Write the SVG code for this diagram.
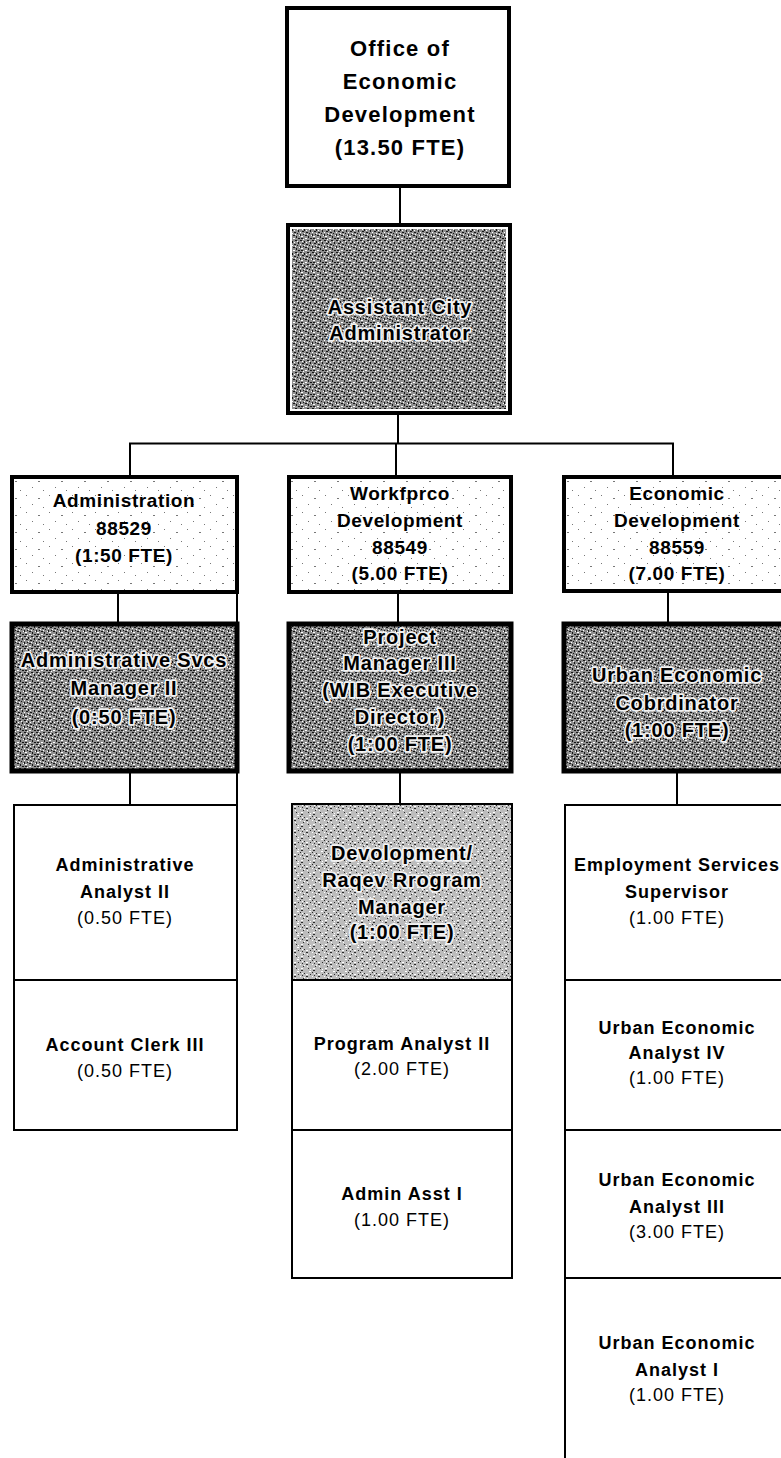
<svg xmlns="http://www.w3.org/2000/svg" width="781" height="1458" viewBox="0 0 781 1458">
<style>
text{font-family:"Liberation Sans",Arial,sans-serif;text-anchor:middle;fill:#000}
.top{font-size:22px;font-weight:bold;letter-spacing:1.2px}
.sec{font-size:19px;font-weight:bold;letter-spacing:0.6px}
.mgr{font-size:20px;font-weight:bold;letter-spacing:0.8px;stroke:#f2f2f2;stroke-width:3.5px;stroke-linejoin:round;paint-order:stroke}
.mgrn{font-size:20px;font-weight:bold;letter-spacing:0.8px;stroke:#f2f2f2;stroke-width:3.5px;stroke-linejoin:round;paint-order:stroke}
.t{font-size:18px;font-weight:bold;letter-spacing:1px}
.f{font-size:18px;font-weight:normal;letter-spacing:1px}
.thick{fill:#fff;stroke:#000;stroke-width:4}
.thin{fill:#fff;stroke:#000;stroke-width:2}
.conn line{stroke:#000;stroke-width:2}
</style>
<defs>
<pattern id="texD" width="12" height="12" patternUnits="userSpaceOnUse">
<rect width="12" height="12" fill="#8f8f8f"/>
<path d="M0 0h2v1H0zM4 1h1v2H4zM7 0h2v1H7zM2 3h2v1H2zM6 4h2v1H6zM0 6h1v2H0zM3 6h1v1H3zM5 7h2v1H5zM8 8h1v2H8zM10 2h1v2h-1zM10 10h2v1h-2zM1 10h2v1H1zM9 5h1v1H9z" fill="#151515"/>
<path d="M2 1h1v1H2zM6 2h1v1H6zM0 4h1v1H0zM4 5h1v1H4zM7 6h1v1H7zM1 8h2v1H1zM9 1h1v1H9zM11 7h1v1h-1zM5 10h2v1H5zM3 11h1v1H3z" fill="#ffffff"/>
</pattern>
<pattern id="texL" width="12" height="12" patternUnits="userSpaceOnUse">
<rect width="12" height="12" fill="#bdbdbd"/>
<path d="M0 0h1v1H0zM4 1h1v1H4zM2 3h1v1H2zM6 4h2v1H6zM3 6h1v1H3zM8 8h1v1H8zM10 2h1v1h-1zM1 10h2v1H1z" fill="#2a2a2a"/>
<path d="M2 1h1v1H2zM6 2h2v1H6zM0 4h1v1H0zM4 5h1v1H4zM7 6h1v1H7zM1 8h2v1H1zM10 9h1v1h-1zM9 11h2v1H9z" fill="#ffffff"/>
</pattern>
<pattern id="speck" width="23" height="17" patternUnits="userSpaceOnUse">
<rect width="23" height="17" fill="#ffffff"/>
<path d="M3 2h1v1H3zM15 5h2v1h-2zM9 11h1v1H9zM20 14h1v1h-1z" fill="#777"/>
</pattern>
</defs>

<g class="conn" id="connectors">
<line x1="400" y1="187" x2="400" y2="223"/>
<line x1="398" y1="415" x2="398" y2="444"/>
<line x1="129" y1="443.5" x2="674" y2="443.5"/>
<line x1="130" y1="443" x2="130" y2="475"/>
<line x1="396" y1="443" x2="396" y2="475"/>
<line x1="673" y1="443" x2="673" y2="475"/>
<line x1="118" y1="593" x2="118" y2="622"/>
<line x1="237" y1="593" x2="237" y2="622"/>
<line x1="398" y1="593" x2="398" y2="622"/>
<line x1="668" y1="592" x2="668" y2="622"/>
<line x1="130" y1="773" x2="130" y2="805"/>
<line x1="237" y1="773" x2="237" y2="805"/>
<line x1="400" y1="773" x2="400" y2="803"/>
<line x1="677" y1="773" x2="677" y2="805"/>
</g>

<g id="office">
<rect class="thick" x="287" y="8" width="222" height="178"/>
<text class="top" x="400" y="56">Office of</text>
<text class="top" x="400" y="89">Economic</text>
<text class="top" x="400" y="122">Development</text>
<text class="top" x="400" y="155">(13.50 FTE)</text>
</g>

<g id="assistant">
<rect class="thick" x="288" y="225" width="222" height="188"/>
<rect x="292" y="229" width="214" height="180" fill="url(#texD)"/>
<text class="mgr" x="400" y="314">Assistant City</text>
<text class="mgr" x="400" y="340">Administrator</text>
</g>

<g id="administration">
<rect x="12" y="477" width="225" height="115" fill="url(#speck)" stroke="#000" stroke-width="4"/>
<text class="sec" x="124" y="507">Administration</text>
<text class="sec" x="124" y="535">88529</text>
<text class="sec" x="124" y="562">(1:50 FTE)</text>
</g>

<g id="workforce">
<rect x="289" y="477" width="222" height="115" fill="url(#speck)" stroke="#000" stroke-width="4"/>
<text class="sec" x="400" y="500">Workfprco</text>
<text class="sec" x="400" y="527">Development</text>
<text class="sec" x="400" y="554">88549</text>
<text class="sec" x="400" y="580">(5.00 FTE)</text>
</g>

<g id="economic">
<rect x="564" y="477" width="222" height="114" fill="url(#speck)" stroke="#000" stroke-width="4"/>
<text class="sec" x="677" y="500">Economic</text>
<text class="sec" x="677" y="527">Development</text>
<text class="sec" x="677" y="554">88559</text>
<text class="sec" x="677" y="580">(7.00 FTE)</text>
</g>

<g id="admin-svcs-mgr">
<rect x="12" y="624" width="225" height="147" fill="url(#texD)" stroke="#000" stroke-width="5"/>
<text class="mgr" x="124" y="667">Administrative Svcs</text>
<text class="mgr" x="124" y="695">Manager II</text>
<text class="mgrn" x="124" y="724">(0:50 FTE)</text>
</g>

<g id="project-mgr">
<rect x="289" y="624" width="222" height="147" fill="url(#texD)" stroke="#000" stroke-width="5"/>
<text class="mgr" x="400" y="644">Project</text>
<text class="mgr" x="400" y="670">Manager III</text>
<text class="mgr" x="400" y="697">(WIB Executive</text>
<text class="mgr" x="400" y="724">Director)</text>
<text class="mgrn" x="400" y="751">(1:00 FTE)</text>
</g>

<g id="coordinator">
<rect x="564" y="624" width="222" height="147" fill="url(#texD)" stroke="#000" stroke-width="5"/>
<text class="mgr" x="677" y="682">Urban Economic</text>
<text class="mgr" x="677" y="710">Cobrdinator</text>
<text class="mgrn" x="677" y="737">(1:00 FTE)</text>
</g>

<g id="admin-analyst">
<rect class="thin" x="14" y="805" width="223" height="175"/>
<text class="t" x="125" y="871">Administrative</text>
<text class="t" x="125" y="898">Analyst II</text>
<text class="f" x="125" y="924">(0.50 FTE)</text>
</g>

<g id="account-clerk">
<rect class="thin" x="14" y="980" width="223" height="150"/>
<text class="t" x="125" y="1051">Account Clerk III</text>
<text class="f" x="125" y="1077">(0.50 FTE)</text>
</g>

<g id="devolopment-mgr">
<rect x="292" y="804" width="220" height="176" fill="url(#texL)" stroke="#000" stroke-width="2"/>
<text class="mgr" x="402" y="860">Devolopment/</text>
<text class="mgr" x="402" y="887">Raqev Rrogram</text>
<text class="mgr" x="402" y="914">Manager</text>
<text class="mgrn" x="402" y="939">(1:00 FTE)</text>
</g>

<g id="program-analyst">
<rect class="thin" x="292" y="980" width="220" height="150"/>
<text class="t" x="402" y="1050">Program Analyst II</text>
<text class="f" x="402" y="1075">(2.00 FTE)</text>
</g>

<g id="admin-asst">
<rect class="thin" x="292" y="1130" width="220" height="148"/>
<text class="t" x="402" y="1200">Admin Asst I</text>
<text class="f" x="402" y="1226">(1.00 FTE)</text>
</g>

<g id="employment-supervisor">
<rect class="thin" x="565" y="805" width="222" height="175"/>
<text class="t" x="677" y="871">Employment Services</text>
<text class="t" x="677" y="898">Supervisor</text>
<text class="f" x="677" y="924">(1.00 FTE)</text>
</g>

<g id="ue-analyst-iv">
<rect class="thin" x="565" y="980" width="222" height="150"/>
<text class="t" x="677" y="1034">Urban Economic</text>
<text class="t" x="677" y="1059">Analyst IV</text>
<text class="f" x="677" y="1084">(1.00 FTE)</text>
</g>

<g id="ue-analyst-iii">
<rect class="thin" x="565" y="1130" width="222" height="148"/>
<text class="t" x="677" y="1186">Urban Economic</text>
<text class="t" x="677" y="1213">Analyst III</text>
<text class="f" x="677" y="1238">(3.00 FTE)</text>
</g>

<g id="ue-analyst-i">
<rect class="thin" x="565" y="1278" width="222" height="190"/>
<text class="t" x="677" y="1349">Urban Economic</text>
<text class="t" x="677" y="1376">Analyst I</text>
<text class="f" x="677" y="1401">(1.00 FTE)</text>
</g>
</svg>
